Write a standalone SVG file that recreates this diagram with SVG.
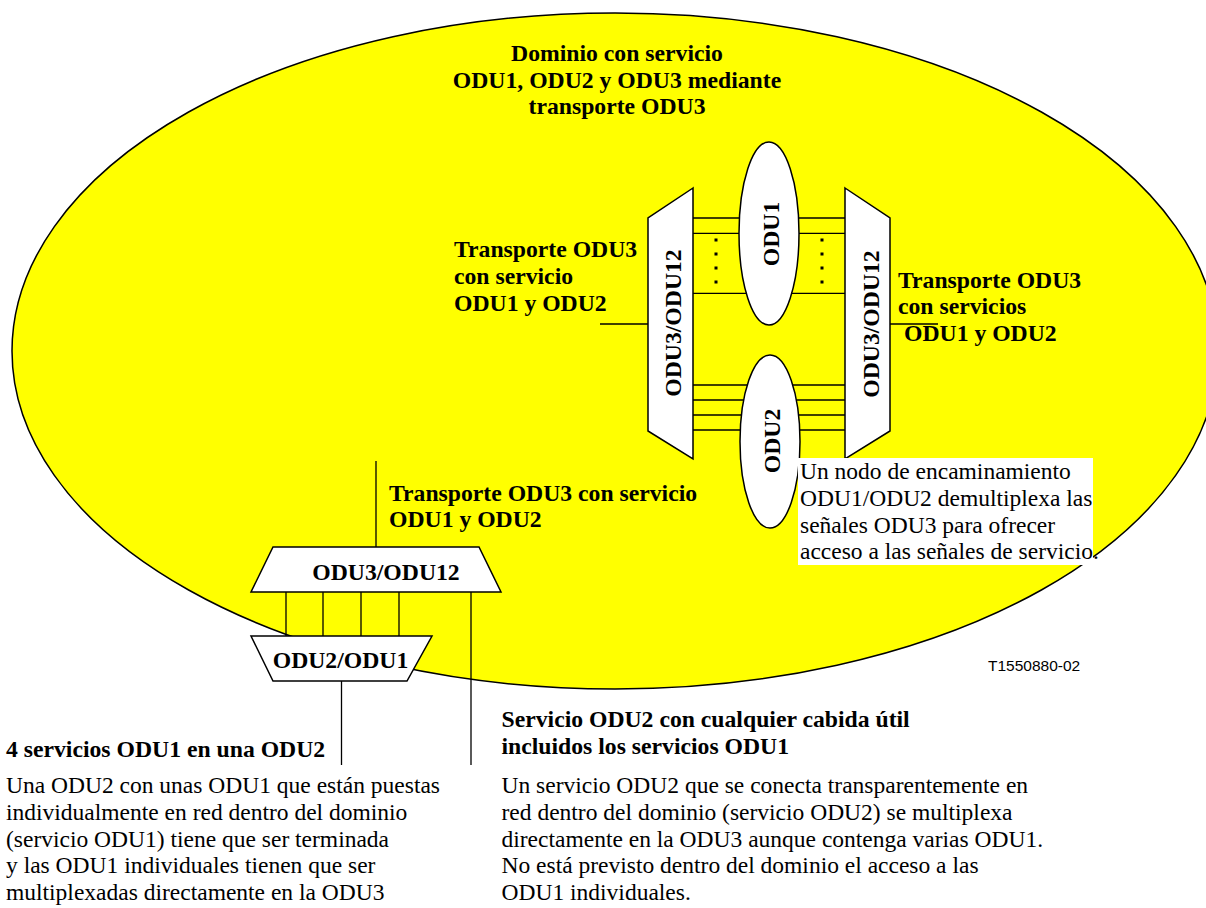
<svg xmlns="http://www.w3.org/2000/svg" width="1206" height="908" viewBox="0 0 1206 908">
<style>
.b{font-family:"Liberation Serif","Times New Roman",serif;font-weight:bold;font-size:23.7px;fill:#000}
.r{font-family:"Liberation Serif","Times New Roman",serif;font-size:23.5px;fill:#000}
.s{font-family:"Liberation Sans",Arial,sans-serif;font-size:15.5px;fill:#000}
.ln{stroke:#000;stroke-width:1.3;fill:none}
.shape{fill:#fff;stroke:#000;stroke-width:1.5}
.dots{stroke:#000;stroke-width:3;stroke-dasharray:3 11;fill:none}
</style>
<rect width="1206" height="908" fill="#fff"/>
<g id="domain">
<ellipse cx="615" cy="351" rx="603" ry="338" fill="#ffff00" stroke="#000" stroke-width="1.5"/>
<text class="b" text-anchor="middle" x="617" y="61">Dominio con servicio</text>
<text class="b" text-anchor="middle" x="617" y="88">ODU1, ODU2 y ODU3 mediante</text>
<text class="b" text-anchor="middle" x="617" y="114">transporte ODU3</text>
</g>
<g id="connectors">
<line class="ln" x1="693" y1="218" x2="845" y2="218"/>
<line class="ln" x1="693" y1="233.3" x2="845" y2="233.3"/>
<line class="ln" x1="693" y1="293.3" x2="845" y2="293.3"/>
<line class="dots" x1="716" y1="238.5" x2="716" y2="284"/>
<line class="dots" x1="822" y1="238.5" x2="822" y2="284"/>
<line class="ln" x1="693" y1="385" x2="845" y2="385"/>
<line class="ln" x1="693" y1="400" x2="845" y2="400"/>
<line class="ln" x1="693" y1="415" x2="845" y2="415"/>
<line class="ln" x1="693" y1="430" x2="845" y2="430"/>
<line class="ln" x1="600" y1="324" x2="648" y2="324"/>
<line class="ln" x1="890" y1="324" x2="938" y2="324"/>
<line class="ln" x1="376" y1="461" x2="376" y2="547"/>
<line class="ln" x1="286" y1="592" x2="286" y2="636"/>
<line class="ln" x1="323" y1="592" x2="323" y2="636"/>
<line class="ln" x1="361" y1="592" x2="361" y2="636"/>
<line class="ln" x1="399" y1="592" x2="399" y2="636"/>
<line class="ln" x1="471" y1="592" x2="471" y2="765"/>
<line class="ln" x1="341.5" y1="681" x2="341.5" y2="765"/>
</g>
<g id="mux-left">
<polygon class="shape" points="693,188 648,218 648,431 693,459"/>
<text class="b" text-anchor="middle" transform="translate(681,323) rotate(-90)">ODU3/ODU12</text>
</g>
<g id="mux-right">
<polygon class="shape" points="845,188 890,218 890,431 845,459"/>
<text class="b" text-anchor="middle" transform="translate(879,324) rotate(-90)">ODU3/ODU12</text>
</g>
<g id="odu1">
<ellipse class="shape" cx="769" cy="233.5" rx="30" ry="91.5"/>
<text class="b" text-anchor="middle" transform="translate(779,234) rotate(-90)">ODU1</text>
</g>
<g id="odu2">
<ellipse class="shape" cx="770" cy="441.5" rx="30" ry="86.5"/>
<text class="b" text-anchor="middle" transform="translate(780,441) rotate(-90)">ODU2</text>
</g>
<g id="mux-lower">
<polygon class="shape" points="273,547 479,547 501,592 251,592"/>
<text class="b" text-anchor="middle" x="386" y="580">ODU3/ODU12</text>
</g>
<g id="mux-odu21">
<polygon class="shape" points="251,636 432,636 407,681 273,681"/>
<text class="b" text-anchor="middle" x="340.5" y="668">ODU2/ODU1</text>
</g>
<g id="label-left">
<text class="b" x="454" y="257">Transporte ODU3</text>
<text class="b" x="454" y="284">con servicio</text>
<text class="b" x="454" y="310.7">ODU1 y ODU2</text>
</g>
<g id="label-right">
<text class="b" x="898" y="287.5">Transporte ODU3</text>
<text class="b" x="898" y="314.2">con servicios</text>
<text class="b" x="904" y="341">ODU1 y ODU2</text>
</g>
<g id="label-lower">
<text class="b" x="389" y="501">Transporte ODU3 con servicio</text>
<text class="b" x="389" y="527">ODU1 y ODU2</text>
</g>
<g id="note">
<rect x="798" y="458" width="295" height="107" fill="#fff"/>
<text class="r" x="800" y="479">Un nodo de encaminamiento</text>
<text class="r" x="800" y="506">ODU1/ODU2 demultiplexa las</text>
<text class="r" x="800" y="533">señales ODU3 para ofrecer</text>
<text class="r" x="800" y="559">acceso a las señales de servicio.</text>
</g>
<text class="s" x="988" y="671">T1550880-02</text>
<g id="desc-left">
<text class="b" x="6" y="757">4 servicios ODU1 en una ODU2</text>
<text class="r" x="6" y="793.3">Una ODU2 con unas ODU1 que están puestas</text>
<text class="r" x="6" y="820">individualmente en red dentro del dominio</text>
<text class="r" x="6" y="846.7">(servicio ODU1) tiene que ser terminada</text>
<text class="r" x="6" y="873.3">y las ODU1 individuales tienen que ser</text>
<text class="r" x="6" y="900">multiplexadas directamente en la ODU3</text>
</g>
<g id="desc-right">
<text class="b" x="501.5" y="727">Servicio ODU2 con cualquier cabida útil</text>
<text class="b" x="501.5" y="754">incluidos los servicios ODU1</text>
<text class="r" x="501.5" y="793.3">Un servicio ODU2 que se conecta transparentemente en</text>
<text class="r" x="501.5" y="820">red dentro del dominio (servicio ODU2) se multiplexa</text>
<text class="r" x="501.5" y="846.7">directamente en la ODU3 aunque contenga varias ODU1.</text>
<text class="r" x="501.5" y="873.3">No está previsto dentro del dominio el acceso a las</text>
<text class="r" x="501.5" y="900">ODU1 individuales.</text>
</g>
</svg>
